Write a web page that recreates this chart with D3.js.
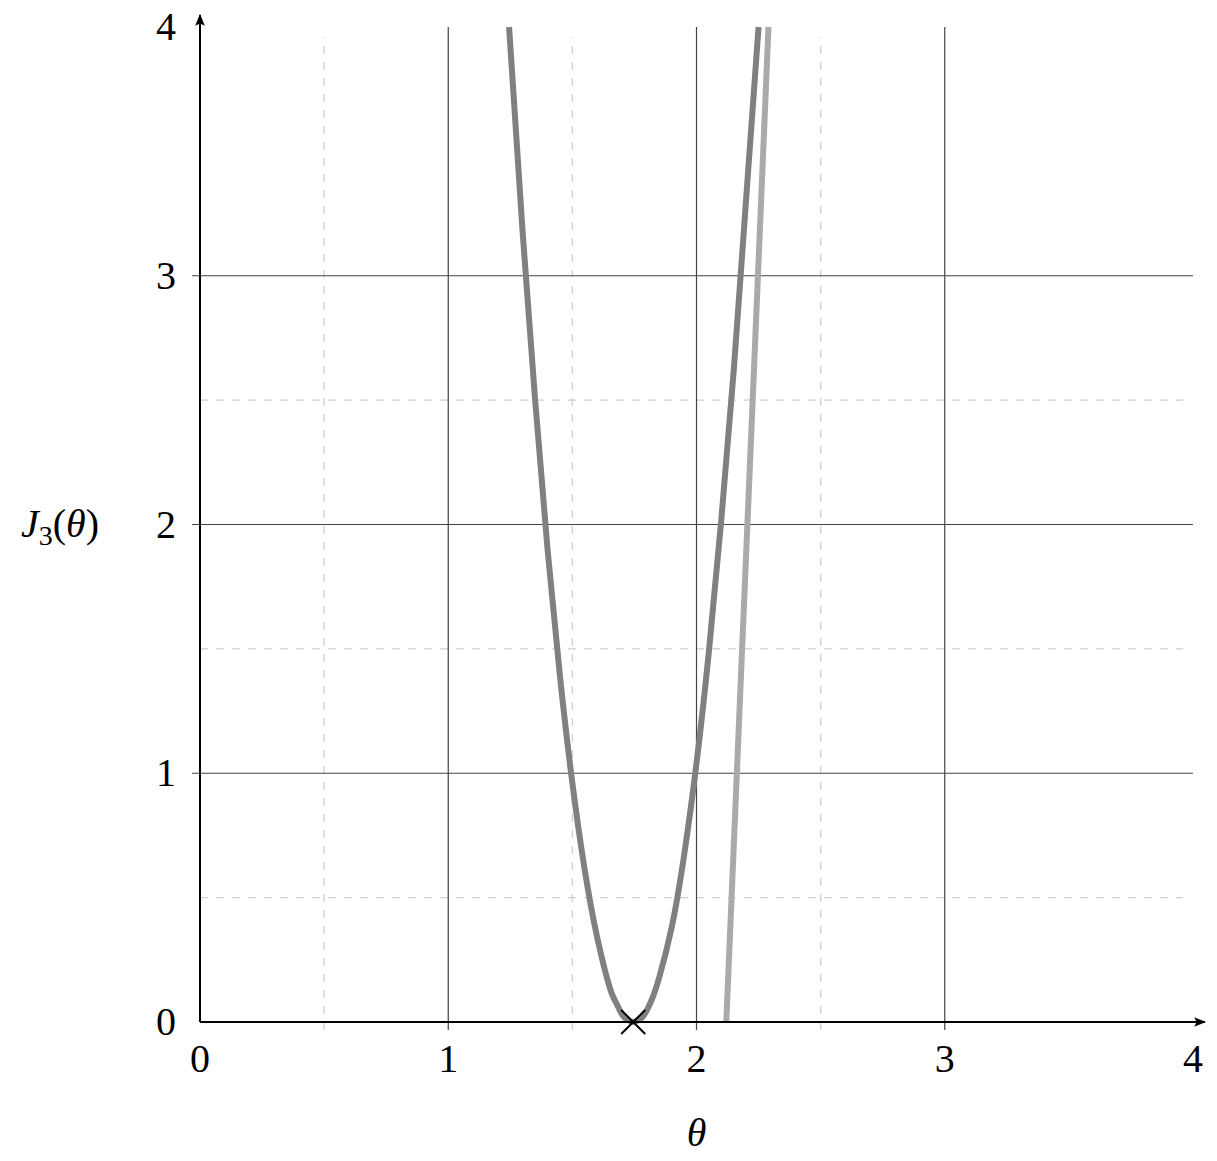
<!DOCTYPE html>
<html>
<head>
<meta charset="utf-8">
<script src="https://cdn.jsdelivr.net/npm/d3@7"></script>
<style>
  body { margin: 0; background: #fff; }
</style>
</head>
<body>
<div id="chart"></div>
<script>
// values
var majorTicks = [0, 1, 2, 3, 4];
var minorTicks = [0.5, 1.5, 2.5];
var gridMajor = [1, 2, 3];

// dark curve J3(theta)
var curveTheta = [1.245, 1.30, 1.35, 1.40, 1.45, 1.50, 1.55, 1.60, 1.65, 1.675, 1.70, 1.72, 1.745, 1.77, 1.79, 1.82, 1.85, 1.90, 1.95, 2.00, 2.05, 2.10, 2.15, 2.20, 2.25];
var curveJ = [4.0, 3.17, 2.50, 1.90, 1.39, 0.96, 0.61, 0.34, 0.14, 0.08, 0.03, 0.01, 0.0, 0.01, 0.03, 0.09, 0.18, 0.38, 0.67, 1.04, 1.49, 2.02, 2.62, 3.31, 4.0];

// light line
var lineTheta = [2.12, 2.205, 2.29];
var lineJ = [0, 2, 4];

// minimum marker
var minTheta = 1.745, minJ = 0;

var font = "'Liberation Serif', 'DejaVu Serif', serif";

// set the dimensions and margins of the graph
var margin = {top: 27, right: 24, bottom: 139, left: 200},
  width = 993,
  height = 995;

var svg = d3
  .select('#chart')
  .append('svg')
  .attr('width', 1217)
  .attr('height', 1161)
  .append('g')
  .attr('transform', 'translate(' + margin.left + ',' + margin.top + ')');

var x = d3.scaleLinear().domain([0, 4]).range([0, width]);
var y = d3.scaleLinear().domain([0, 4]).range([height, 0]);

// minor dashed grid
svg.selectAll('.minorV')
  .data(minorTicks)
  .enter()
  .append('line')
  .attr('x1', function (d) { return x(d); })
  .attr('x2', function (d) { return x(d); })
  .attr('y1', y(0) + 8)
  .attr('y2', y(4) + 10)
  .style('stroke', '#d0d0d0')
  .style('stroke-width', 1.3)
  .style('stroke-dasharray', '8,8');

svg.selectAll('.minorH')
  .data(minorTicks)
  .enter()
  .append('line')
  .attr('y1', function (d) { return y(d); })
  .attr('y2', function (d) { return y(d); })
  .attr('x1', 0)
  .attr('x2', width - 10)
  .style('stroke', '#d0d0d0')
  .style('stroke-width', 1.3)
  .style('stroke-dasharray', '8,8');

// major grid
svg.selectAll('.majorV')
  .data(gridMajor)
  .enter()
  .append('line')
  .attr('x1', function (d) { return x(d); })
  .attr('x2', function (d) { return x(d); })
  .attr('y1', y(0) + 8)
  .attr('y2', y(4))
  .style('stroke', '#444')
  .style('stroke-width', 1.2);

svg.selectAll('.majorH')
  .data(gridMajor)
  .enter()
  .append('line')
  .attr('y1', function (d) { return y(d); })
  .attr('y2', function (d) { return y(d); })
  .attr('x1', -8)
  .attr('x2', width)
  .style('stroke', '#444')
  .style('stroke-width', 1.2);

// curves
var line = d3.line()
  .x(function (d) { return x(d[0]); })
  .y(function (d) { return y(d[1]); });

svg.append('path')
  .datum(lineTheta.map(function (t, i) { return [t, lineJ[i]]; }))
  .attr('d', line)
  .style('fill', 'none')
  .style('stroke', '#aaaaaa')
  .style('stroke-width', 6);

svg.append('path')
  .datum(curveTheta.map(function (t, i) { return [t, curveJ[i]]; }))
  .attr('d', line.curve(d3.curveNatural))
  .style('fill', 'none')
  .style('stroke', '#808080')
  .style('stroke-width', 6);

// axes with arrows
var defs = d3.select('svg').append('defs');
defs.append('marker')
  .attr('id', 'arrow')
  .attr('viewBox', '0 0 10 10')
  .attr('refX', 9)
  .attr('refY', 5)
  .attr('markerWidth', 6)
  .attr('markerHeight', 6)
  .attr('markerUnits', 'strokeWidth')
  .attr('orient', 'auto')
  .append('path')
  .attr('d', 'M0,1 L10,5 L0,9 L2,5 Z')
  .style('fill', '#000');

svg.append('line')
  .attr('x1', 0).attr('y1', y(0))
  .attr('x2', x(4) + 12).attr('y2', y(0))
  .style('stroke', '#000')
  .style('stroke-width', 2)
  .attr('marker-end', 'url(#arrow)');

svg.append('line')
  .attr('x1', 0).attr('y1', y(0))
  .attr('x2', 0).attr('y2', y(4) - 12)
  .style('stroke', '#000')
  .style('stroke-width', 2)
  .attr('marker-end', 'url(#arrow)');

// minimum marker
var m = 12;
svg.append('path')
  .attr('d', 'M' + (x(minTheta) - m) + ',' + (y(minJ) - m) + 'L' + (x(minTheta) + m) + ',' + (y(minJ) + m) +
    'M' + (x(minTheta) - m) + ',' + (y(minJ) + m) + 'L' + (x(minTheta) + m) + ',' + (y(minJ) - m))
  .style('stroke', '#000')
  .style('stroke-width', 2);

// tick labels
svg.selectAll('.xlab')
  .data(majorTicks)
  .enter()
  .append('text')
  .attr('x', function (d) { return x(d); })
  .attr('y', y(0) + 50)
  .attr('font-family', font)
  .style('text-anchor', 'middle')
  .style('font-size', '40px')
  .text(function (d) { return d; });

svg.selectAll('.ylab')
  .data(majorTicks)
  .enter()
  .append('text')
  .attr('x', -24)
  .attr('y', function (d) { return y(d) + 13; })
  .attr('font-family', font)
  .style('text-anchor', 'end')
  .style('font-size', '40px')
  .text(function (d) { return d; });

// axis titles
svg.append('text')
  .attr('x', x(2))
  .attr('y', y(0) + 124)
  .attr('font-family', font)
  .style('text-anchor', 'middle')
  .style('font-size', '40px')
  .style('font-style', 'italic')
  .text('θ');

var yt = svg.append('text')
  .attr('x', -140)
  .attr('y', y(2) + 12)
  .attr('font-family', font)
  .style('text-anchor', 'middle')
  .style('font-size', '40px');
yt.append('tspan').style('font-style', 'italic').text('J');
yt.append('tspan').attr('dy', 8).style('font-size', '28px').text('3');
yt.append('tspan').attr('dy', -8).text('(');
yt.append('tspan').style('font-style', 'italic').text('θ');
yt.append('tspan').text(')');
</script>
</body>
</html>
